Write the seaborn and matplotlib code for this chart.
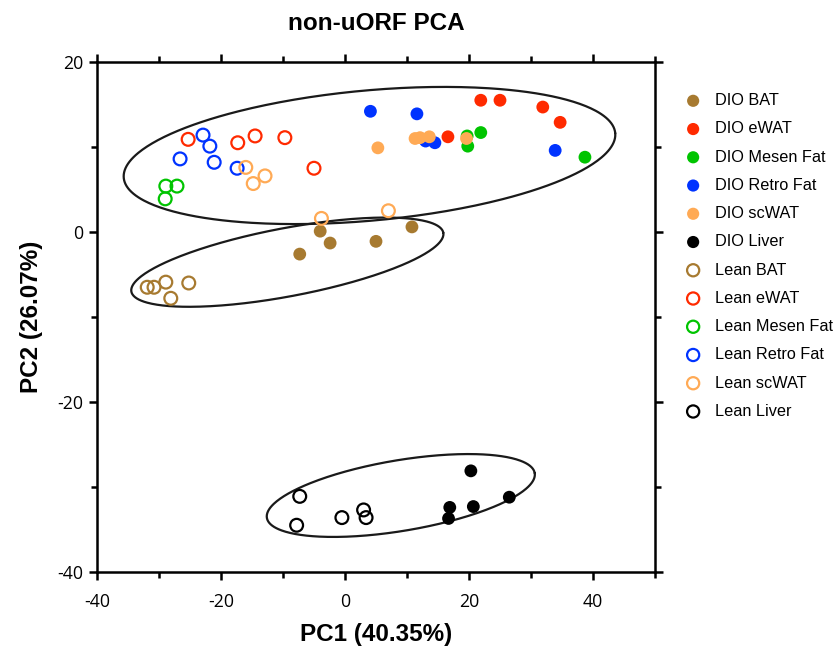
import numpy as np
import pandas as pd
import matplotlib
matplotlib.use("Agg")
import matplotlib.pyplot as plt
from matplotlib.ticker import MultipleLocator
import seaborn as sns

# ---------------- data ----------------
groups = ["DIO BAT", "DIO eWAT", "DIO Mesen Fat", "DIO Retro Fat", "DIO scWAT", "DIO Liver",
          "Lean BAT", "Lean eWAT", "Lean Mesen Fat", "Lean Retro Fat", "Lean scWAT", "Lean Liver"]
colors = ["#A77A30", "#FF2A00", "#00C400", "#0033FF", "#FFAA55", "#000000",
          "#A77A30", "#FF2A00", "#00C400", "#0033FF", "#FFAA55", "#000000"]
filled = [True] * 6 + [False] * 6

dio_bat_x = [-4.0, -2.4, -7.3, 5.0, 10.8]
dio_bat_y = [0.1, -1.3, -2.6, -1.1, 0.6]
dio_ewat_x = [21.9, 25.0, 31.9, 34.7, 16.6]
dio_ewat_y = [15.5, 15.5, 14.7, 12.9, 11.2]
dio_mesen_x = [19.7, 19.8, 21.9, 38.7]
dio_mesen_y = [11.3, 10.1, 11.7, 8.8]
dio_retro_x = [4.1, 11.6, 13.0, 14.5, 33.9]
dio_retro_y = [14.2, 13.9, 10.7, 10.5, 9.6]
dio_scwat_x = [5.3, 11.3, 12.1, 13.6, 19.6]
dio_scwat_y = [9.9, 11.0, 11.1, 11.2, 11.0]
dio_liver_x = [20.3, 16.9, 16.7, 20.7, 26.5]
dio_liver_y = [-28.1, -32.4, -33.7, -32.3, -31.2]

lean_bat_x = [-31.9, -30.8, -28.9, -28.1, -25.2]
lean_bat_y = [-6.5, -6.5, -5.9, -7.8, -6.0]
lean_ewat_x = [-25.3, -17.3, -14.5, -9.7, -5.0]
lean_ewat_y = [10.9, 10.5, 11.3, 11.1, 7.5]
lean_mesen_x = [-28.9, -27.1, -29.0]
lean_mesen_y = [5.4, 5.4, 3.9]
lean_retro_x = [-22.9, -21.8, -26.6, -21.1, -17.4]
lean_retro_y = [11.4, 10.1, 8.6, 8.2, 7.5]
lean_scwat_x = [-16.0, -12.9, -14.8, -3.8, 7.0]
lean_scwat_y = [7.6, 6.6, 5.7, 1.6, 2.5]
lean_liver_x = [-7.3, -7.8, -0.5, 3.0, 3.4]
lean_liver_y = [-31.1, -34.5, -33.6, -32.7, -33.6]

xs = [dio_bat_x, dio_ewat_x, dio_mesen_x, dio_retro_x, dio_scwat_x, dio_liver_x,
      lean_bat_x, lean_ewat_x, lean_mesen_x, lean_retro_x, lean_scwat_x, lean_liver_x]
ys = [dio_bat_y, dio_ewat_y, dio_mesen_y, dio_retro_y, dio_scwat_y, dio_liver_y,
      lean_bat_y, lean_ewat_y, lean_mesen_y, lean_retro_y, lean_scwat_y, lean_liver_y]

# cluster ellipses: centre (data), semi-axes (x-data units), screen angle (deg)
ell_cx = [3.95, -9.3, 9.0]
ell_cy = [9.0, -3.55, -31.0]
ell_a = [39.8, 25.6, 21.9]
ell_b = [10.5, 5.5, 5.7]
ell_ang = [5.2, 10.7, 9.5]

rows = []
for g, xv, yv in zip(groups, xs, ys):
    for a, b in zip(xv, yv):
        rows.append({"group": g, "PC1": a, "PC2": b})
df = pd.DataFrame(rows)

# ---------------- style ----------------
sns.set_theme(style="ticks")
plt.rcParams["font.family"] = ["Liberation Sans", "DejaVu Sans"]
plt.rcParams["axes.unicode_minus"] = False
plt.rcParams["text.color"] = "black"
plt.rcParams["axes.labelcolor"] = "black"

fig = plt.figure(figsize=(8.38, 6.46), dpi=100)
ax = fig.add_axes([97 / 838, 1 - 572 / 646, (655 - 97) / 838, (572 - 62) / 646])

for g, c, f in zip(groups, colors, filled):
    sub = df[df["group"] == g]
    if f:
        sns.scatterplot(data=sub, x="PC1", y="PC2", ax=ax, color=c, s=85,
                        edgecolor="none", linewidth=0, label=g, zorder=3)
    else:
        sns.scatterplot(data=sub, x="PC1", y="PC2", ax=ax, color=c, s=85,
                        facecolor="none", edgecolor=c, linewidth=1.6, label=g, zorder=3)

ax.set_xlim(-40, 50)
ax.set_ylim(-40, 20)

# ellipses drawn in screen-proportional space
bbox = ax.get_position()
sx = bbox.width * 838 / 90.0
sy = bbox.height * 646 / 60.0
t = np.linspace(0, 2 * np.pi, 400)
for cx, cy, a, b, ang in zip(ell_cx, ell_cy, ell_a, ell_b, ell_ang):
    th = np.deg2rad(ang)
    dx = a * np.cos(t) * np.cos(th) - b * np.sin(t) * np.sin(th)
    dy = (a * np.cos(t) * np.sin(th) + b * np.sin(t) * np.cos(th)) * sx / sy
    ax.plot(cx + dx, cy + dy, color="#1a1a1a", lw=1.6, zorder=2)

ax.xaxis.set_major_locator(MultipleLocator(20))
ax.xaxis.set_minor_locator(MultipleLocator(10))
ax.yaxis.set_major_locator(MultipleLocator(20))
ax.yaxis.set_minor_locator(MultipleLocator(10))
ax.tick_params(which="both", direction="out", top=True, right=True, width=1.8,
               color="black", labelcolor="black")
ax.tick_params(which="major", length=6)
ax.tick_params(which="minor", length=4)
ax.tick_params(axis="x", which="major", pad=9)
ax.tick_params(axis="y", which="major", pad=4)
for lab in ax.get_xticklabels() + ax.get_yticklabels():
    lab.set_family(["Open Sans", "DejaVu Sans"])
    lab.set_fontsize(12.8)
for sp in ax.spines.values():
    sp.set_linewidth(1.8)
    sp.set_color("black")
    sp.set_visible(True)

ax.set_xlabel("PC1 (40.35%)", fontsize=17.5, fontweight="bold", labelpad=9, color="black")
ax.set_ylabel("PC2 (26.07%)", fontsize=17.5, fontweight="bold", labelpad=10, color="black")
ax.set_title("non-uORF PCA", fontsize=17.5, fontweight="bold", pad=23, color="black")

leg = ax.legend(loc="upper left", bbox_to_anchor=(0.8, 0.866),
                bbox_transform=fig.transFigure, frameon=False, fontsize=11.7,
                labelspacing=0.815, handletextpad=0.35, borderaxespad=0,
                markerscale=0.95)
for txt in leg.get_texts():
    txt.set_color("black")

fig.savefig("out.png", dpi=100)
